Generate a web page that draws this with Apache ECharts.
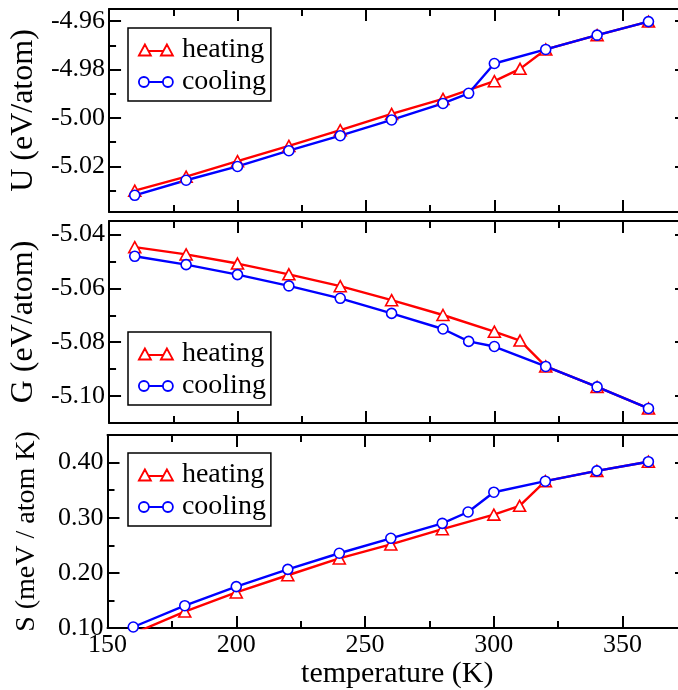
<!DOCTYPE html>
<html>
<head>
<meta charset="utf-8">
<script src="https://cdn.jsdelivr.net/npm/echarts@6/dist/echarts.min.js"></script>
<style>html,body{margin:0;padding:0;background:#fff;overflow:hidden}#c{width:700px;height:690px}</style>
</head>
<body>
<div id="c"></div>
<script>
// ---- data ----
const tempHeating = [160, 180, 200, 220, 240, 260, 280, 300, 310, 320, 340, 360];
const tempCooling = [160, 180, 200, 220, 240, 260, 280, 290, 300, 320, 340, 360];

const uHeating = [-5.0300, -5.0242, -5.0178, -5.0115, -5.0050, -4.9983, -4.9921, -4.9848, -4.9797, -4.9717, -4.9658, -4.9602];
const uCooling = [-5.0319, -5.0257, -5.0200, -5.0135, -5.0073, -5.0008, -4.9940, -4.9898, -4.9775, -4.9717, -4.9658, -4.9602];

const gHeating = [-5.0447, -5.0474, -5.0508, -5.0548, -5.0592, -5.0644, -5.0699, -5.0761, -5.0794, -5.0890, -5.0966, -5.1046];
const gCooling = [-5.0481, -5.0512, -5.0549, -5.0591, -5.0637, -5.0693, -5.0751, -5.0797, -5.0816, -5.0890, -5.0966, -5.1046];

const sHeating = [0.090, 0.130, 0.1646, 0.1958, 0.2263, 0.2517, 0.2793, 0.3057, 0.3216, 0.3663, 0.3850, 0.4016];
const sCooling = [0.102, 0.1406, 0.1752, 0.2064, 0.2357, 0.2628, 0.2899, 0.3104, 0.3463, 0.3663, 0.3850, 0.4016];

const xMajorTicks = [150, 200, 250, 300, 350];
const xMinorTicks = [175, 225, 275, 325];
const uMajorTicks = [-5.02, -5.00, -4.98, -4.96];
const uMinorTicks = [-5.03, -5.01, -4.99, -4.97];
const gMajorTicks = [-5.10, -5.08, -5.06, -5.04];
const gMinorTicks = [-5.11, -5.09, -5.07, -5.05];
const sMajorTicks = [0.10, 0.20, 0.30, 0.40];
const sMinorTicks = [0.15, 0.25, 0.35, 0.45];

const yTitles = ['U (eV/atom)', 'G (eV/atom)', 'S (meV / atom K)'];
const xTitle = 'temperature (K)';
const seriesNames = ['heating', 'cooling'];

// ---- layout / style ----
const FONT = 'Liberation Serif';
const RED = '#ff0000', BLUE = '#0000ff';
const panels = [
  {top: 9, height: 203, ymin: -5.0388, ymax: -4.955, major: uMajorTicks, minor: uMinorTicks, titleSize: 32, heat: uHeating, cool: uCooling, legendTop: 28},
  {top: 221, height: 202, ymin: -5.11, ymax: -5.035, major: gMajorTicks, minor: gMinorTicks, titleSize: 32, heat: gHeating, cool: gCooling, legendTop: 332},
  {top: 435, height: 199, ymin: 0.10, ymax: 0.45, major: sMajorTicks, minor: sMinorTicks, titleSize: 28, heat: sHeating, cool: sCooling, legendTop: 453}
];
const GL = 107.5, GW = 579.5;
const lineBlack = {color: '#000', width: 2};

const grid = [], xAxis = [], yAxis = [], series = [], legend = [];
const zip = (a, b) => a.map((v, i) => [v, b[i]]);

panels.forEach((p, g) => {
  grid.push({left: GL, width: GW, top: p.top, height: p.height, containLabel: false});
  const base = {gridIndex: g, type: 'value', min: 150, max: 375, splitLine: {show: false}};
  xAxis.push(Object.assign({}, base, {
    position: 'bottom',
    axisLine: {show: true, onZero: false, lineStyle: lineBlack},
    axisTick: {show: true, inside: true, length: 12, lineStyle: lineBlack, customValues: xMajorTicks},
    axisLabel: {show: g === 2, customValues: xMajorTicks, margin: 4, color: '#000', fontFamily: FONT, fontSize: 26, formatter: v => String(v)},
    name: g === 2 ? xTitle : '', nameLocation: 'middle', nameGap: 29,
    nameTextStyle: {color: '#000', fontFamily: FONT, fontSize: 30}
  }));
  xAxis.push(Object.assign({}, base, {
    position: 'bottom',
    axisLine: {show: false, onZero: false},
    axisTick: {show: true, inside: true, length: 7, lineStyle: lineBlack, customValues: xMinorTicks},
    axisLabel: {show: false}
  }));
  xAxis.push(Object.assign({}, base, {
    position: 'top',
    axisLine: {show: true, onZero: false, lineStyle: lineBlack},
    axisTick: {show: true, inside: true, length: 12, lineStyle: lineBlack, customValues: xMajorTicks},
    axisLabel: {show: false}
  }));
  xAxis.push(Object.assign({}, base, {
    position: 'top',
    axisLine: {show: false, onZero: false},
    axisTick: {show: true, inside: true, length: 7, lineStyle: lineBlack, customValues: xMinorTicks},
    axisLabel: {show: false}
  }));

  const yb = {gridIndex: g, type: 'value', min: p.ymin, max: p.ymax, splitLine: {show: false}};
  yAxis.push(Object.assign({}, yb, {
    position: 'left',
    axisLine: {show: true, onZero: false, lineStyle: lineBlack},
    axisTick: {show: true, inside: true, length: 12, lineStyle: lineBlack, customValues: p.major},
    axisLabel: {show: true, customValues: p.major, margin: 4, color: '#000', fontFamily: FONT, fontSize: 26, formatter: v => v.toFixed(2)},
    name: yTitles[g], nameLocation: 'middle', nameRotate: 90, nameGap: 67,
    nameTextStyle: {color: '#000', fontFamily: FONT, fontSize: p.titleSize}
  }));
  yAxis.push(Object.assign({}, yb, {
    position: 'left',
    axisLine: {show: false, onZero: false},
    axisTick: {show: true, inside: true, length: 7, lineStyle: lineBlack, customValues: p.minor},
    axisLabel: {show: false}
  }));
  yAxis.push(Object.assign({}, yb, {
    position: 'right',
    axisLine: {show: true, onZero: false, lineStyle: lineBlack},
    axisTick: {show: true, inside: true, length: 12, lineStyle: lineBlack, customValues: p.major},
    axisLabel: {show: false}
  }));
  yAxis.push(Object.assign({}, yb, {
    position: 'right',
    axisLine: {show: false, onZero: false},
    axisTick: {show: true, inside: true, length: 7, lineStyle: lineBlack, customValues: p.minor},
    axisLabel: {show: false}
  }));

  series.push({
    name: seriesNames[0], type: 'line', xAxisIndex: g * 4, yAxisIndex: g * 4,
    data: zip(tempHeating, p.heat), clip: true,
    symbol: 'triangle', symbolSize: [12, 11], showAllSymbol: true,
    itemStyle: {color: '#fff', borderColor: RED, borderWidth: 1.6},
    lineStyle: {color: RED, width: 2.4}, emphasis: {disabled: true}
  });
  series.push({
    name: seriesNames[1], type: 'line', xAxisIndex: g * 4, yAxisIndex: g * 4,
    data: zip(tempCooling, p.cool), clip: true,
    symbol: 'circle', symbolSize: 10, showAllSymbol: true,
    itemStyle: {color: '#fff', borderColor: BLUE, borderWidth: 1.6},
    lineStyle: {color: BLUE, width: 2.4}, emphasis: {disabled: true}
  });

  legend.push({
    left: 128, top: p.legendTop, orient: 'vertical',
    padding: [8, 5, 5, 10], itemGap: 4, itemWidth: 34, itemHeight: 11,
    borderColor: '#000', borderWidth: 1.5, backgroundColor: '#fff',
    selectedMode: false,
    textStyle: {color: '#000', fontFamily: FONT, fontSize: 28, padding: [0, 0, 0, 4]},
    data: [
      {name: seriesNames[0], icon: 'path://M0,11L6,0L12,11Z M22,11L28,0L34,11Z M9.55,6.5L24.45,6.5',
       itemStyle: {color: '#fff', borderColor: RED, borderWidth: 1.8}},
      {name: seriesNames[1], icon: 'path://M0,5.5A5,5,0,1,0,10,5.5A5,5,0,1,0,0,5.5Z M24,5.5A5,5,0,1,0,34,5.5A5,5,0,1,0,24,5.5Z M10,5.5L24,5.5',
       itemStyle: {color: '#fff', borderColor: BLUE, borderWidth: 1.8}}
    ]
  });
});

const chart = echarts.init(document.getElementById('c'), null, {renderer: 'canvas'});
chart.setOption({animation: false, backgroundColor: '#fff', grid, xAxis, yAxis, series, legend});
</script>
</body>
</html>
